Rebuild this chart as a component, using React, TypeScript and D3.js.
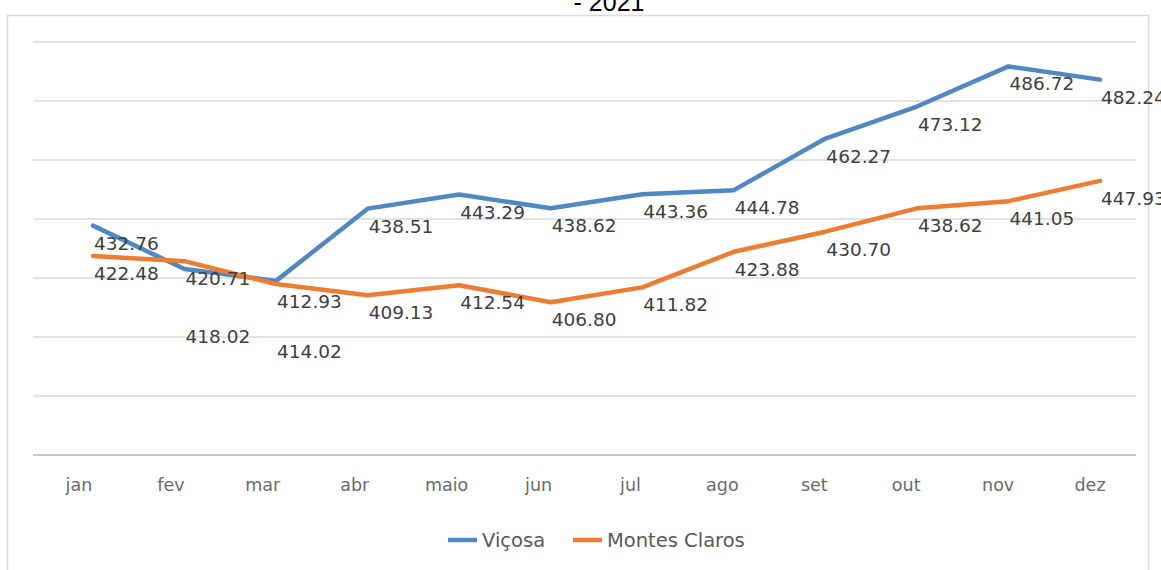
import React from "react";
import * as d3 from "d3";

const months = ["jan", "fev", "mar", "abr", "maio", "jun", "jul", "ago", "set", "out", "nov", "dez"];
const vicosa = [432.76, 418.02, 414.02, 438.51, 443.29, 438.62, 443.36, 444.78, 462.27, 473.12, 486.72, 482.24];
const montesClaros = [422.48, 420.71, 412.93, 409.13, 412.54, 406.8, 411.82, 423.88, 430.7, 438.62, 441.05, 447.93];
const seriesNames = ["Viçosa", "Montes Claros"];
const yTicks = [355, 375, 395, 415, 435, 455, 475, 495];
const titleText = "- 2021";

const W = 1161;
const H = 570;
const BLUE = "#5088c6";
const ORANGE = "#ed7d31";
const FONT = "'DejaVu Sans', sans-serif";

export default function App() {
  const x = d3.scalePoint<string>().domain(months).range([93, 1100]);
  const xb = d3.scaleBand<string>().domain(months).range([33, 1136]);
  const y = d3.scaleLinear().domain([355, 495]).range([455, 42]);
  const line = d3
    .line<number>()
    .x((_, i) => x(months[i]) as number)
    .y((d) => y(d));

  const labelsV: number[] = [];
  const labelsM: number[] = [];
  months.forEach((_, i) => {
    let vy = y(vicosa[i]) + 24;
    const my = y(montesClaros[i]) + 24;
    if (Math.abs(vy - my) < 20) vy = Math.max(vy, my) + 50;
    labelsV.push(vy);
    labelsM.push(my);
  });

  const series = [
    { name: seriesNames[0], data: vicosa, color: BLUE, labels: labelsV },
    { name: seriesNames[1], data: montesClaros, color: ORANGE, labels: labelsM },
  ];

  return (
    <svg width={W} height={H} style={{ position: "absolute", left: 0, top: 0, background: "#fff" }}>
      <rect x={7.5} y={15.5} width={1141} height={620} fill="#fff" stroke="#dcdcdc" strokeWidth={1.5} />
      <text x={609} y={11} textAnchor="middle" fontFamily="'Liberation Sans', Arial, sans-serif" fontSize={25} fill="#000">
        {titleText}
      </text>
      {yTicks.map((t, i) => (
        <line
          key={t}
          x1={33}
          x2={1136}
          y1={y(t)}
          y2={y(t)}
          stroke={i === 0 ? "#c8c8c8" : "#dadada"}
          strokeWidth={i === 0 ? 2 : 1.5}
        />
      ))}
      {months.map((m) => (
        <text
          key={m}
          x={(xb(m) as number) + xb.bandwidth() / 2}
          y={491}
          textAnchor="middle"
          fontFamily={FONT}
          fontSize={17.5}
          fill="#6b6b6b"
        >
          {m}
        </text>
      ))}
      {series.map((s) => (
        <path
          key={s.name}
          d={line(s.data) as string}
          fill="none"
          stroke={s.color}
          strokeWidth={4.5}
          strokeLinejoin="round"
          strokeLinecap="round"
        />
      ))}
      {series.map((s) =>
        s.data.map((v, i) => (
          <text
            key={s.name + i}
            x={(x(months[i]) as number) + 1}
            y={s.labels[i]}
            fontFamily={FONT}
            fontSize={18.5}
            fill="#404040"
          >
            {v.toFixed(2)}
          </text>
        ))
      )}
      <g fontFamily={FONT} fontSize={19.5} fill="#595959">
        <line x1={448} x2={477} y1={540} y2={540} stroke={BLUE} strokeWidth={4.5} />
        <text x={482} y={547}>{seriesNames[0]}</text>
        <line x1={573} x2={602} y1={540} y2={540} stroke={ORANGE} strokeWidth={4.5} />
        <text x={607} y={547}>{seriesNames[1]}</text>
      </g>
    </svg>
  );
}
